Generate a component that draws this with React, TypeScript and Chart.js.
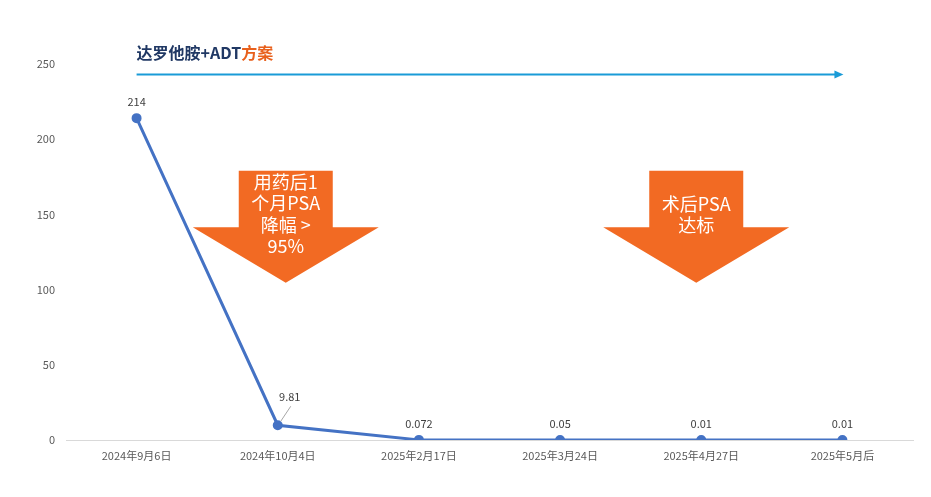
import React, { useEffect, useRef } from "react";
import { Chart, registerables } from "chart.js";

Chart.register(...registerables);

const categories = ["2024年9月6日", "2024年10月4日", "2025年2月17日", "2025年3月24日", "2025年4月27日", "2025年5月后"];
const psaValues = [214, 9.81, 0.072, 0.05, 0.01, 0.01];
const yTicks = [0, 50, 100, 150, 200, 250];
const titleMain = "达罗他胺+ADT";
const titleAccent = "方案";
const arrow1Lines = ["用药后1", "个月PSA", "降幅 >", "95%"];
const arrow2Lines = ["术后PSA", "达标"];

const FONT = "'Noto Sans CJK SC', 'Noto Sans', sans-serif";
const ORANGE = "#F26A23";

const annotations = {
  id: "annotations",
  beforeDatasetsDraw(chart: any) {
    const ctx = chart.ctx;
    const x = chart.scales.x;
    const y = chart.scales.y;
    ctx.save();
    // Title
    const tx = x.getPixelForValue(0);
    const ty = y.getPixelForValue(250) - 11;
    ctx.font = `bold 16px ${FONT}`;
    ctx.textBaseline = "middle";
    ctx.textAlign = "left";
    ctx.fillStyle = "#203864";
    ctx.fillText(titleMain, tx, ty);
    const w = ctx.measureText(titleMain).width;
    ctx.fillStyle = "#E8601C";
    ctx.fillText(titleAccent, tx + w, ty);

    // Blue horizontal arrow
    const ay = y.getPixelForValue(243);
    const ax0 = x.getPixelForValue(0);
    const ax1 = x.getPixelForValue(5) + 1;
    ctx.strokeStyle = "#1A9BD7";
    ctx.fillStyle = "#1A9BD7";
    ctx.lineWidth = 2;
    ctx.beginPath();
    ctx.moveTo(ax0, ay);
    ctx.lineTo(ax1 - 7, ay);
    ctx.stroke();
    ctx.beginPath();
    ctx.moveTo(ax1, ay);
    ctx.lineTo(ax1 - 9, ay - 4);
    ctx.lineTo(ax1 - 9, ay + 4);
    ctx.closePath();
    ctx.fill();

    // Orange down arrows
    const drawArrow = (cx: number, lines: string[], textStartVal: number) => {
      const top = y.getPixelForValue(179);
      const shoulder = y.getPixelForValue(141.5);
      const tip = y.getPixelForValue(104.5);
      const hw = 93;
      const bw = 47;
      ctx.fillStyle = ORANGE;
      ctx.beginPath();
      ctx.moveTo(cx - bw, top);
      ctx.lineTo(cx + bw, top);
      ctx.lineTo(cx + bw, shoulder);
      ctx.lineTo(cx + hw, shoulder);
      ctx.lineTo(cx, tip);
      ctx.lineTo(cx - hw, shoulder);
      ctx.lineTo(cx - bw, shoulder);
      ctx.closePath();
      ctx.fill();
      ctx.fillStyle = "#FFFFFF";
      ctx.font = `18px ${FONT}`;
      ctx.textAlign = "center";
      ctx.textBaseline = "middle";
      const startY = y.getPixelForValue(textStartVal);
      lines.forEach((l, i) => ctx.fillText(l, cx, startY + i * 21.5));
    };
    drawArrow(x.getPixelForValue(1) + 8, arrow1Lines, 171.5);
    drawArrow(x.getPixelForValue(4) - 5, arrow2Lines, 157);
    ctx.restore();
  },
  afterDatasetsDraw(chart: any) {
    const ctx = chart.ctx;
    const meta = chart.getDatasetMeta(0);
    ctx.save();
    ctx.font = `11px ${FONT}`;
    ctx.fillStyle = "#404040";
    ctx.textAlign = "center";
    ctx.textBaseline = "middle";
    meta.data.forEach((pt: any, i: number) => {
      const label = String(psaValues[i]);
      if (i === 1) {
        ctx.strokeStyle = "#A6A6A6";
        ctx.lineWidth = 1;
        ctx.beginPath();
        ctx.moveTo(pt.x + 3, pt.y - 4);
        ctx.lineTo(pt.x + 13, pt.y - 19);
        ctx.stroke();
        ctx.fillText(label, pt.x + 12, pt.y - 28);
      } else {
        ctx.fillText(label, pt.x, pt.y - 16);
      }
    });
    ctx.restore();
  },
};

export default function App() {
  const ref = useRef<HTMLCanvasElement>(null);
  useEffect(() => {
    document.body.style.margin = "0";
    const chart = new Chart(ref.current!, {
      type: "line",
      data: {
        labels: categories,
        datasets: [
          {
            data: psaValues,
            borderColor: "#4472C4",
            backgroundColor: "#4472C4",
            borderWidth: 3,
            pointRadius: 3.5,
            pointBackgroundColor: "#4472C4",
            pointBorderColor: "#4472C4",
            tension: 0,
          },
        ],
      },
      options: {
        animation: false,
        responsive: false,
        maintainAspectRatio: false,
        layout: { padding: { top: 64, right: 18, left: 1, bottom: 0 } },
        plugins: { legend: { display: false }, tooltip: { enabled: false }, title: { display: false } },
        scales: {
          x: {
            offset: true,
            grid: { display: false, drawTicks: false },
            border: { display: true, color: "#D9D9D9", width: 1 },
            ticks: { color: "#595959", font: { family: FONT, size: 11 }, padding: 9, maxRotation: 0, autoSkip: false },
            afterFit: (s: any) => { s.height = 57; },
          },
          y: {
            min: 0,
            max: 250,
            afterBuildTicks: (s: any) => { s.ticks = yTicks.map((v) => ({ value: v })); },
            grid: { display: false, drawTicks: false },
            border: { display: false },
            ticks: { color: "#595959", font: { family: FONT, size: 11 }, padding: 11 },
            afterFit: (s: any) => { s.width = 65; },
          },
        },
      },
      plugins: [annotations],
    });
    return () => chart.destroy();
  }, []);
  return (
    <div style={{ width: 931, height: 497, background: "#fff" }}>
      <canvas ref={ref} width={931} height={497} style={{ display: "block" }} />
    </div>
  );
}
